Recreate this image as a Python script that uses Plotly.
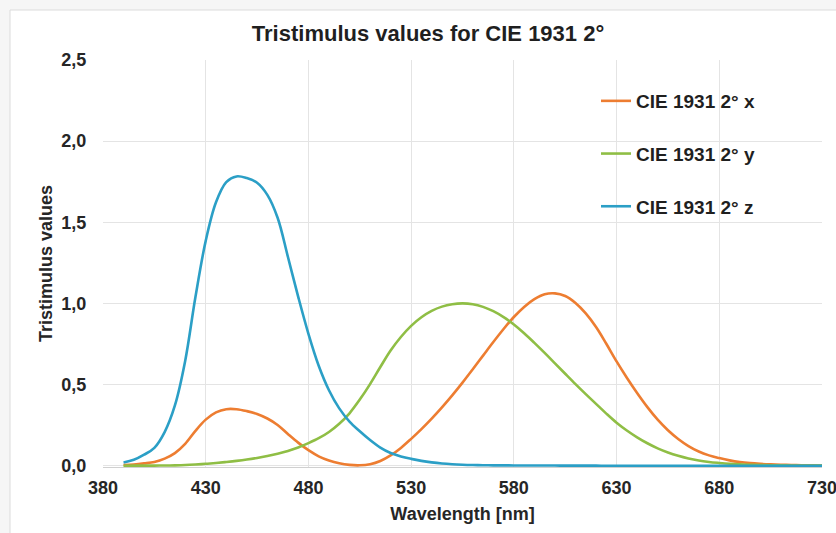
import plotly.graph_objects as go

# CIE 1931 2° colour matching functions, 5 nm steps
wavelength = list(range(390, 735, 5))

x_bar = [0.004243, 0.007650, 0.014310, 0.023190, 0.043510, 0.077630, 0.134380, 0.214770,
         0.283900, 0.328500, 0.348280, 0.348060, 0.336200, 0.318700, 0.290800, 0.251100,
         0.195360, 0.142100, 0.095640, 0.057950, 0.032010, 0.014700, 0.004900, 0.002400,
         0.009300, 0.029100, 0.063270, 0.109600, 0.165500, 0.225750, 0.290400, 0.359700,
         0.433450, 0.512050, 0.594500, 0.678400, 0.762100, 0.842500, 0.916300, 0.978600,
         1.026300, 1.056700, 1.062200, 1.045600, 1.002600, 0.938400, 0.854450, 0.751400,
         0.642400, 0.541900, 0.447900, 0.360800, 0.283500, 0.218700, 0.164900, 0.121200,
         0.087400, 0.063600, 0.046770, 0.032900, 0.022700, 0.015840, 0.011359, 0.008111,
         0.005790, 0.004109, 0.002899, 0.002049, 0.001440]

y_bar = [0.000120, 0.000217, 0.000396, 0.000640, 0.001210, 0.002180, 0.004000, 0.007300,
         0.011600, 0.016840, 0.023000, 0.029800, 0.038000, 0.048000, 0.060000, 0.073900,
         0.090980, 0.112600, 0.139020, 0.169300, 0.208020, 0.258600, 0.323000, 0.407300,
         0.503000, 0.608200, 0.710000, 0.793200, 0.862000, 0.914850, 0.954000, 0.980300,
         0.994950, 1.000000, 0.995000, 0.978600, 0.952000, 0.915400, 0.870000, 0.816300,
         0.757000, 0.694900, 0.631000, 0.566800, 0.503000, 0.441200, 0.381000, 0.321000,
         0.265000, 0.217000, 0.175000, 0.138200, 0.107000, 0.081600, 0.061000, 0.044580,
         0.032000, 0.023200, 0.017000, 0.011920, 0.008210, 0.005723, 0.004102, 0.002929,
         0.002091, 0.001484, 0.001047, 0.000740, 0.000520]

z_bar = [0.020050, 0.036210, 0.067850, 0.110200, 0.207400, 0.371300, 0.645600, 1.039050,
         1.385600, 1.622960, 1.747060, 1.782600, 1.772110, 1.744100, 1.669200, 1.528100,
         1.287640, 1.041900, 0.812950, 0.616200, 0.465180, 0.353300, 0.272000, 0.212300,
         0.158200, 0.111700, 0.078250, 0.057250, 0.042160, 0.029840, 0.020300, 0.013400,
         0.008750, 0.005750, 0.003900, 0.002750, 0.002100, 0.001800, 0.001650, 0.001400,
         0.001100, 0.001000, 0.000800, 0.000600, 0.000340, 0.000240, 0.000190, 0.000100,
         0.000050, 0.000030, 0.000020, 0.000010, 0.0, 0.0, 0.0, 0.0,
         0.0, 0.0, 0.0, 0.0, 0.0, 0.0, 0.0, 0.0,
         0.0, 0.0, 0.0, 0.0, 0.0]

series_names = ["CIE 1931 2° x", "CIE 1931 2° y", "CIE 1931 2° z"]
series_colors = ["#ED7D31", "#8FBE45", "#2B9FC6"]
x_ticks = [380, 430, 480, 530, 580, 630, 680, 730]
y_ticks = [0.0, 0.5, 1.0, 1.5, 2.0, 2.5]

FONT = "Liberation Sans, Arial, sans-serif"
TEXT = "#262626"

fig = go.Figure()
for name, values, color in zip(series_names, [x_bar, y_bar, z_bar], series_colors):
    fig.add_trace(go.Scatter(
        x=wavelength, y=values, mode="lines", name=name, legendgroup=name,
        line=dict(color=color, width=2.6, shape="spline", smoothing=1.0),
    ))

# plot area geometry (pixels)
L, R, T, B = 103, 14, 60, 66
W, H = 836 - L - R, 533 - T - B

def px_x(p):
    return (p - L) / W

def px_y(p):
    return (533 - B - p) / H

shapes = [
    # chart frame
    dict(type="rect", xref="paper", yref="paper",
         x0=px_x(10), x1=px_x(845), y0=px_y(545), y1=px_y(10),
         fillcolor="white", line=dict(color="#dcdcdc", width=1), layer="below"),
    # legend backdrop hiding the gridlines behind it
    dict(type="rect", xref="paper", yref="paper",
         x0=px_x(557), x1=px_x(802), y0=px_y(233), y1=px_y(80),
         fillcolor="white", line=dict(width=0), layer="between"),
]

fig.update_layout(
    width=836, height=533,
    margin=dict(l=L, r=R, t=T, b=B, autoexpand=False),
    paper_bgcolor="#f6f6f6",
    plot_bgcolor="white",
    separators=", ",
    font=dict(family=FONT, color=TEXT),
    title=dict(text="Tristimulus values for CIE 1931 2°", x=0.512, xanchor="center",
               y=1 - 33 / 533, yanchor="middle",
               font=dict(size=22, weight="bold", color="#1f1f1f")),
    xaxis=dict(range=[380, 730], tickvals=x_ticks, showgrid=True, gridcolor="#e4e4e4",
               gridwidth=1, showline=True, linecolor="#d0d0d0", linewidth=1,
               zeroline=False, ticks="outside", ticklen=4, tickcolor="rgba(0,0,0,0)",
               ticklabeloverflow="allow", automargin=False,
               tickfont=dict(size=18, weight="bold", color=TEXT),
               title=dict(text="Wavelength [nm]", standoff=10,
                          font=dict(size=18, weight="bold", color=TEXT))),
    yaxis=dict(range=[-0.008, 2.5], tickvals=y_ticks, tickformat=".1f", showgrid=True,
               gridcolor="#e4e4e4", gridwidth=1, zeroline=False, showline=False,
               ticks="outside", ticklen=12, tickcolor="rgba(0,0,0,0)", automargin=False,
               tickfont=dict(size=18, weight="bold", color=TEXT),
               title=dict(text="Tristimulus values", standoff=4,
                          font=dict(size=18, weight="bold", color=TEXT))),
    legend=dict(x=px_x(596), y=px_y(82), xanchor="left", yanchor="top",
                bgcolor="rgba(0,0,0,0)", borderwidth=0, tracegroupgap=25,
                font=dict(size=19, weight="bold", color="#1f1f1f"),
                itemwidth=30),
    shapes=shapes,
    showlegend=True,
)

fig.write_html("out.html")
